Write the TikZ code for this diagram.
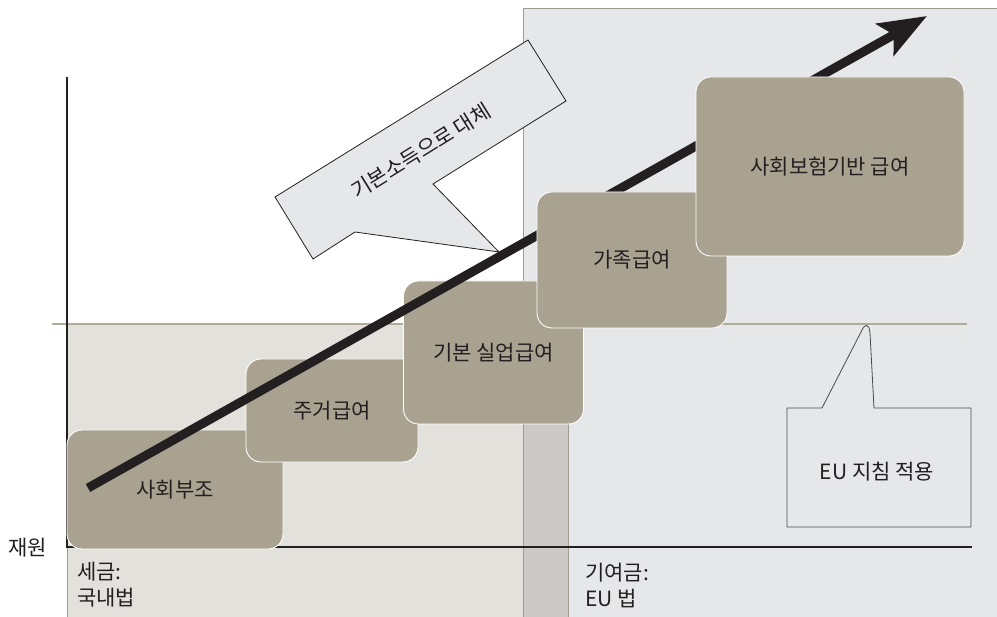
\documentclass[tikz,border=0pt]{standalone}
\usepackage{fontspec}
\setmainfont{Noto Sans CJK KR}
\usetikzlibrary{arrows.meta}
\definecolor{boxfill}{HTML}{A9A291}
\definecolor{rightbg}{HTML}{E6E7E9}
\definecolor{leftbg}{HTML}{E2E1DC}
\definecolor{stripbg}{HTML}{CBCAC7}
\definecolor{tanline}{HTML}{B3AB9A}
\definecolor{edgeline}{HTML}{A09C90}
\definecolor{ink}{HTML}{231F20}
\definecolor{calloutline}{HTML}{4A4A4A}
\begin{document}
\begin{tikzpicture}[x=1pt,y=-1pt,
  stagebox/.style={draw=white, line width=0.9pt, fill=boxfill, rounded corners=15pt, inner sep=0pt,
    text=ink, font=\fontsize{21}{25}\selectfont},
  lbl/.style={text=ink, font=\fontsize{21}{26}\selectfont, inner sep=0pt},
  axisline/.style={draw=ink, line width=2.2pt},
  calloutshape/.style={draw=ink, line width=0.8pt, fill=rightbg, line join=miter}]
\useasboundingbox (0,0) rectangle (997,617);
% background regions
\fill[rightbg] (523,8) rectangle (997,617);
\draw[edgeline, line width=0.8pt] (523,617) -- (523,8) -- (997,8);
\fill[leftbg] (67,324) rectangle (524,617);
\draw[edgeline, line width=0.8pt] (67,324) -- (67,617);
\fill[stripbg] (523.5,324) rectangle (568,617);
\draw[edgeline, line width=0.8pt] (523.5,324) -- (523.5,617) (568,324) -- (568,617);
% threshold line
\draw[tanline, line width=2pt] (52,324) -- (967,324);
% axes
\coordinate (ytop) at (67,77);
\coordinate (origin) at (67,547);
\coordinate (xend) at (972,547);
\draw[axisline] (ytop) -- (origin) -- (xend);
% stage boxes 1-3
\node[stagebox, minimum width=216pt, minimum height=119pt] (b1) at (175,489.5) {사회부조};
\node[stagebox, minimum width=172pt, minimum height=103pt] (b2) at (332,410.5) {주거급여};
\node[stagebox, minimum width=180pt, minimum height=143pt] (b3) at (493.5,352.5) {기본 실업급여};
% main arrow
\coordinate (arrowstart) at (88,488);
\coordinate (arrowend) at (927,16);
\draw[ink, line width=9pt, -{Stealth[length=48pt, width=36pt, inset=10pt]}] (arrowstart) -- (arrowend);
% stage boxes 4-5
\node[stagebox, minimum width=190pt, minimum height=136pt] (b4) at (632,260) {가족급여};
\node[stagebox, minimum width=268pt, minimum height=179pt] (b5) at (830,166.5) {사회보험기반 급여};
% callout 1
\draw[calloutshape] (275,197) -- (528,40) -- (566,101) -- (433,184) -- (499,252) -- (355,232) -- (313,259) -- cycle;
\node[lbl, rotate=31.8] (c1) at (421,151) {기본소득으로 대체};
% callout 2
\draw[calloutshape, draw=calloutline, line join=round] (787,408) -- (822,408) -- (861,332)
  .. controls (865,323) and (869,323) .. (870,333) -- (874,408) -- (971,408) -- (971,527) -- (787,527) -- cycle;
\node[lbl] (c2) at (877,472) {EU 지침 적용};
% labels
\node[lbl] (fund) at (27.5,548) {재원};
\node[lbl, anchor=west, align=left] (tax) at (77,585) {세금:\\국내법};
\node[lbl, anchor=west, align=left] (contrib) at (585,585) {기여금:\\EU 법};
\end{tikzpicture}
\end{document}
